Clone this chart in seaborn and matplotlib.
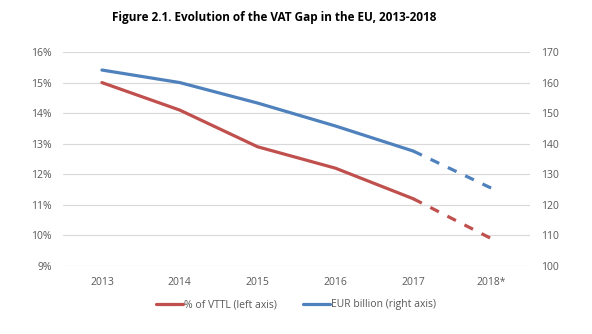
import matplotlib
matplotlib.use("Agg")
import matplotlib.pyplot as plt
import seaborn as sns
import pandas as pd
from matplotlib.lines import Line2D

years = ["2013", "2014", "2015", "2016", "2017", "2018*"]
gap_pct = [15.0, 14.1, 12.9, 12.2, 11.2, 9.9]        # % of VTTL (left axis)
gap_eur = [164.1, 160.0, 153.3, 145.8, 137.6, 125.5]  # EUR billion (right axis)

red = "#C0504D"
blue = "#4F81BD"
grey_txt = "#595959"

sns.set_theme(style="white")
plt.rcParams["font.family"] = ["Open Sans", "DejaVu Sans"]

df = pd.DataFrame({"pos": range(len(years)), "year": years,
                   "pct": gap_pct, "eur": gap_eur})
solid = df.iloc[:5]
proj = df.iloc[4:]

fig = plt.figure(figsize=(5.92, 3.34), dpi=100)
ax = fig.add_axes([63 / 592, 1 - 266 / 334, (530 - 63) / 592, (266 - 52) / 334])
ax2 = ax.twinx()

sns.lineplot(data=solid, x="pos", y="pct", ax=ax, color=red, linewidth=2.3)
sns.lineplot(data=proj, x="pos", y="pct", ax=ax, color=red, linewidth=2.3,
             linestyle=(0, (3, 3)))
sns.lineplot(data=solid, x="pos", y="eur", ax=ax2, color=blue, linewidth=2.3)
sns.lineplot(data=proj, x="pos", y="eur", ax=ax2, color=blue, linewidth=2.3,
             linestyle=(0, (3, 3)))

ax.set_xlim(-0.5, len(years) - 0.5)
ax.set_ylim(9, 16)
ax2.set_ylim(100, 170)
ax.set_yticks(range(9, 17))
ax.set_yticklabels([f"{v}%" for v in range(9, 17)])
ax2.set_yticks(range(100, 171, 10))
ax.set_xticks(df["pos"])
ax.set_xticklabels(years)

ax.yaxis.grid(True, color="#D9D9D9", linewidth=0.8)
ax.set_axisbelow(True)
for a in (ax, ax2):
    for s in a.spines.values():
        s.set_visible(False)
    a.set_xlabel("")
    a.set_ylabel("")
    a.tick_params(axis="both", length=0, labelsize=7.5, colors=grey_txt)
ax.tick_params(axis="y", pad=8)
ax2.tick_params(axis="y", pad=8)
ax.tick_params(axis="x", pad=8)

fig.text(0.463, 0.948, "Figure 2.1. Evolution of the VAT Gap in the EU, 2013-2018",
         ha="center", va="center", fontsize=8.5, fontweight="bold", color="#000000")

handles = [Line2D([], [], color=red, linewidth=2.3),
           Line2D([], [], color=blue, linewidth=2.3)]
fig.legend(handles, ["% of VTTL (left axis)", "EUR billion (right axis)"],
           loc="center", bbox_to_anchor=(0.5, 1 - 305 / 334), ncol=2, frameon=False,
           fontsize=7.5, labelcolor=grey_txt, handlelength=2.6, handletextpad=0.1,
           columnspacing=2.5)

fig.savefig("out.png", dpi=100)
